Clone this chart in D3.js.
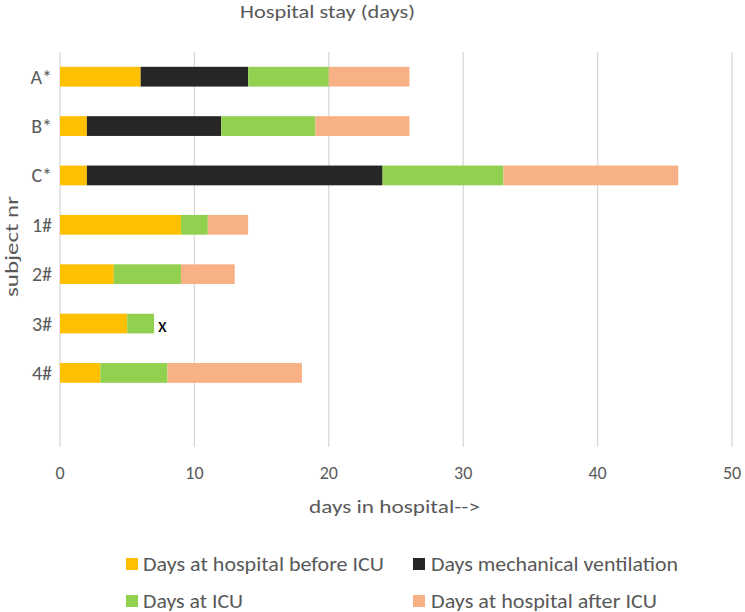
<!DOCTYPE html>
<html><head><meta charset="utf-8">
<script src="https://cdn.jsdelivr.net/npm/d3@7"></script>
<style>body{margin:0;background:#fff}svg{display:block;font-family:Carlito,Lato,"Open Sans",sans-serif}</style>
</head><body><svg id="c" width="745" height="612"></svg>
<script>
const subjects = ["A*","B*","C*","1#","2#","3#","4#",""];
const seriesNames = ["Days at hospital before ICU","Days mechanical ventilation","Days at ICU","Days at hospital after ICU"];
const beforeICU = [6,2,2,9,4,5,3];
const ventilation = [8,10,22,0,0,0,0];
const atICU = [6,7,9,2,5,2,5];
const afterICU = [6,7,13,3,4,0,10];
const xTicks = [0,10,20,30,40,50];
const colors = ["#FFC000","#262626","#92D050","#F8B185"];

const svg = d3.select("#c");
const mLeft=60, mRight=732, mTop=52, mBottom=447;
const x = d3.scaleLinear().domain([0,50]).range([mLeft,mRight]);
const y = d3.scaleBand().domain(subjects.map((d,i)=>i)).range([mTop,mBottom]).paddingInner(0.6).paddingOuter(0.3);
const grey = "#595959";

// gridlines
svg.append("g").selectAll("line").data(xTicks).join("line")
  .attr("x1",d=>x(d)).attr("x2",d=>x(d)).attr("y1",mTop).attr("y2",mBottom)
  .attr("stroke","#d9d9d9").attr("stroke-width",1.3);

const rows = subjects.slice(0,7).map((s,i)=>({s,i,vals:[beforeICU[i],ventilation[i],atICU[i],afterICU[i]]}));
const stackData = rows.map(r=>{const o={i:r.i}; r.vals.forEach((v,k)=>o["k"+k]=v); return o;});
const stack = d3.stack().keys(["k0","k1","k2","k3"])(stackData);
svg.append("g").selectAll("g").data(stack).join("g").attr("fill",(d,k)=>colors[k])
  .selectAll("rect").data(d=>d.filter(p=>p[1]>p[0])).join("rect")
  .attr("x",d=>x(d[0])).attr("width",d=>x(d[1])-x(d[0]))
  .attr("y",d=>y(d.data.i)).attr("height",y.bandwidth());

// y labels
svg.append("g").selectAll("text").data(subjects).join("text")
  .attr("x",52).attr("y",(d,i)=>y(i)+y.bandwidth()/2).attr("dy","0.35em")
  .attr("text-anchor","end").attr("font-size",20).attr("fill",grey).text(d=>d);

// x tick labels
svg.append("g").selectAll("text").data(xTicks).join("text")
  .attr("x",d=>x(d)).attr("y",473).attr("dy","0.35em")
  .attr("text-anchor","middle").attr("font-size",18).attr("fill",grey).text(d=>d);

// x marker for 3#
const i3 = subjects.indexOf("3#");
svg.append("text").attr("x",x(beforeICU[i3]+atICU[i3])+4).attr("y",y(i3)+y.bandwidth()/2+1).attr("dy","0.35em")
  .attr("font-size",20).attr("fill","#000").text("x");

function fitText(sel, len){ sel.attr("textLength",len).attr("lengthAdjust","spacingAndGlyphs"); return sel; }

// titles
fitText(svg.append("text").attr("x",240).attr("y",18).attr("font-size",18).attr("fill",grey).text("Hospital stay  (days)"),175);
fitText(svg.append("text").attr("x",309).attr("y",513).attr("font-size",18).attr("fill",grey).text("days in hospital-->"),171);
fitText(svg.append("text").attr("transform","translate(18,297) rotate(-90)").attr("font-size",18).attr("fill",grey).text("subject nr"),101);

// legend
const legPos = [[126,564],[413,564],[126,601],[413,601]];
const legLen = [241,247,100,226];
const lg = svg.append("g").selectAll("g").data(seriesNames).join("g")
  .attr("transform",(d,i)=>`translate(${legPos[i][0]},${legPos[i][1]})`);
lg.append("rect").attr("x",0).attr("y",-6).attr("width",12).attr("height",12).attr("fill",(d,i)=>colors[i]);
lg.append("text").attr("x",(d,i)=>i%2?18:17).attr("y",7).attr("font-size",20).attr("fill",grey)
  .attr("textLength",(d,i)=>legLen[i]).attr("lengthAdjust","spacingAndGlyphs").text(d=>d);
</script></body></html>
